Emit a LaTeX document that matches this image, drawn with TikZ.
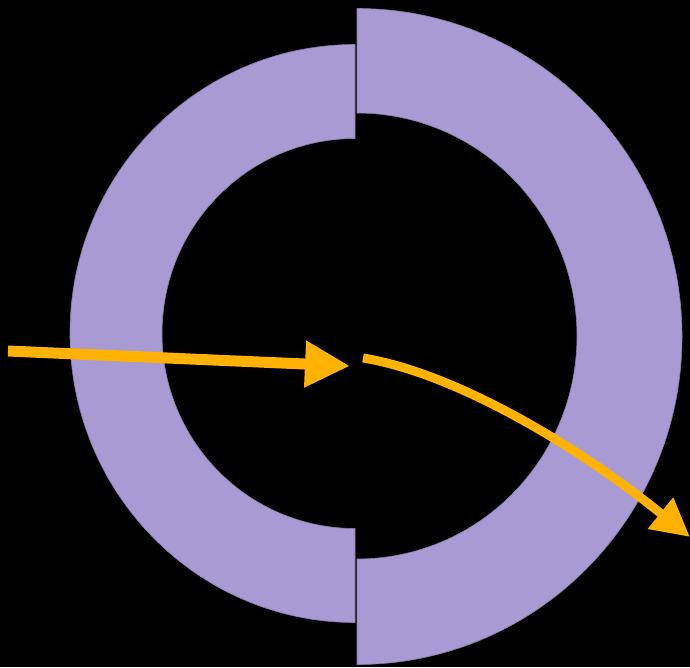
\documentclass[tikz,border=0pt]{standalone}
\usetikzlibrary{arrows.meta}
\definecolor{lens}{HTML}{A89AD2}
\definecolor{ray}{HTML}{FFB300}
\begin{document}
\begin{tikzpicture}[x=1pt,y=-1pt,>={Triangle[length=45pt,width=44pt]},
    shell/.style={fill=lens,draw=lens!80!black,line width=0.6pt},
    beam/.style={draw=ray,line width=11pt}]
        \fill[black] (0,0) rectangle (690,667);
        \useasboundingbox (0,0) rectangle (690,667);
        % left half ring
        \path[shell] (355,44.5) arc[start angle=-90,end angle=-270,x radius=285,y radius=289]
            -- (355,528.5) arc[start angle=90,end angle=270,x radius=193,y radius=195] -- cycle;
        % right half ring
        \path[shell] (357,8.5) arc[start angle=-90,end angle=90,x radius=325,y radius=328]
            -- (357,559) arc[start angle=90,end angle=-90,x radius=220,y radius=223] -- cycle;
        \coordinate (inlet) at (8,351);
        \coordinate (focus) at (350,366);
        \coordinate (start) at (363,358);
        \coordinate (outlet) at (690,537);
        \draw[beam,->] (inlet) -- (focus);
        \draw[beam,line width=9pt,-{Triangle[length=38pt,width=38pt]}] (start) .. controls (450,372) and (570,440) .. (outlet);
    \end{tikzpicture}
\end{document}
